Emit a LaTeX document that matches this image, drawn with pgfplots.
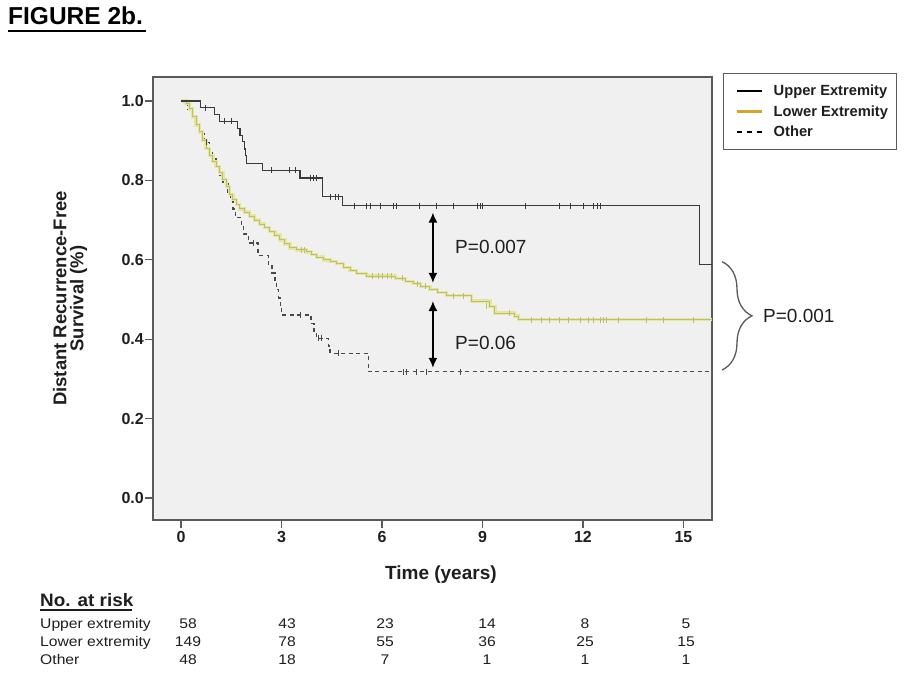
\documentclass[border=0pt]{standalone}
\usepackage{fontspec}
\setmainfont{Liberation Sans}
\usepackage{graphicx}
\usepackage{pgfplots}
\usepackage{pgfplotstable}
\pgfplotsset{compat=1.18}
\usetikzlibrary{arrows.meta,decorations.pathreplacing}

\definecolor{bgc}{HTML}{F0F0F0}
\definecolor{framec}{HTML}{5A5A5A}
\definecolor{upc}{HTML}{3A3A3A}
\definecolor{lowhalo}{HTML}{E6E69C}
\definecolor{lowc}{HTML}{BDBD78}
\definecolor{othc}{HTML}{4A4A4A}
\definecolor{legold}{HTML}{D4A52A}
\definecolor{txt}{HTML}{1E1E1E}

\pgfplotstableread{
x y
0 1.000
0.59 0.983
1.01 0.966
1.16 0.949
1.68 0.931
1.76 0.914
1.84 0.897
1.90 0.879
1.93 0.862
1.96 0.843
2.44 0.825
3.55 0.806
4.23 0.759
4.83 0.736
15.47 0.588
15.851 0.588
}\upperdata

\pgfplotstableread{
x y
0.72 0.983
1.31 0.949
1.51 0.949
2.71 0.825
3.25 0.825
3.40 0.825
3.85 0.806
3.95 0.806
4.05 0.806
4.45 0.759
4.60 0.759
4.70 0.759
5.19 0.736
5.54 0.736
5.64 0.736
5.94 0.736
6.34 0.736
6.44 0.736
7.13 0.736
7.63 0.736
8.12 0.736
8.84 0.736
8.93 0.736
9.01 0.736
10.27 0.736
11.31 0.736
11.61 0.736
12.00 0.736
12.30 0.736
12.42 0.736
12.51 0.736
}\uppercens

\pgfplotstableread{
x y
0 1.000
0.15 0.993
0.25 0.980
0.35 0.960
0.45 0.940
0.55 0.922
0.65 0.900
0.75 0.880
0.85 0.862
0.95 0.848
1.05 0.835
1.15 0.820
1.25 0.803
1.35 0.785
1.45 0.765
1.55 0.752
1.65 0.740
1.75 0.728
1.90 0.720
2.05 0.710
2.20 0.700
2.35 0.690
2.50 0.682
2.65 0.672
2.80 0.662
2.95 0.650
3.10 0.640
3.25 0.630
3.45 0.625
3.75 0.620
3.90 0.613
4.05 0.607
4.25 0.600
4.45 0.595
4.65 0.590
4.85 0.580
5.05 0.573
5.24 0.566
5.54 0.559
6.40 0.553
6.70 0.546
6.93 0.540
7.15 0.533
7.43 0.525
7.65 0.517
7.93 0.510
8.68 0.496
9.22 0.483
9.37 0.466
9.95 0.458
10.07 0.449
15.851 0.449
}\lowerdata

\pgfplotstableread{
x y
3.60 0.625
3.68 0.625
5.70 0.559
5.90 0.559
6.00 0.559
6.15 0.559
6.28 0.559
6.60 0.553
7.05 0.540
7.30 0.533
8.12 0.510
8.42 0.510
9.13 0.483
9.81 0.466
10.47 0.449
10.77 0.449
11.01 0.449
11.31 0.449
11.56 0.449
11.91 0.449
12.16 0.449
12.31 0.449
12.51 0.449
12.61 0.449
12.71 0.449
13.05 0.449
13.90 0.449
14.40 0.449
15.29 0.449
}\lowercens

\pgfplotstableread{
x y
0 1.000
0.20 0.979
0.33 0.958
0.45 0.938
0.55 0.917
0.70 0.896
0.85 0.875
0.95 0.854
1.05 0.833
1.13 0.812
1.25 0.791
1.40 0.770
1.48 0.749
1.55 0.728
1.62 0.707
1.80 0.686
1.86 0.665
2.02 0.642
2.30 0.611
2.61 0.588
2.72 0.567
2.81 0.546
2.86 0.525
2.92 0.504
2.96 0.483
3.01 0.461
3.88 0.440
3.97 0.421
4.05 0.402
4.40 0.383
4.45 0.364
5.59 0.318
15.851 0.318
}\otherdata

\pgfplotstableread{
x y
0.76 0.896
2.16 0.642
3.55 0.461
4.10 0.402
4.20 0.402
4.70 0.364
6.64 0.318
6.74 0.318
7.04 0.318
7.33 0.318
8.33 0.318
}\othercens

\begin{document}
\begin{tikzpicture}[x=1pt,y=1pt]
\useasboundingbox (0,0) rectangle (915,690);
\begin{axis}[
  at={(153pt,170pt)}, anchor=south west,
  width=559pt, height=443pt, scale only axis,
  xmin=-0.836, xmax=15.851, ymin=-0.0554, ymax=1.0605,
  axis background/.style={fill=bgc},
  axis line style={framec, line width=1.3pt},
  xtick={0,3,6,9,12,15}, ytick={0,0.2,0.4,0.6,0.8,1.0},
  tick pos=left, tick align=outside, major tick length=8pt,
  tick style={framec, line width=1.2pt},
  /pgf/number format/assume math mode=true,
  ticklabel style={font=\bfseries\fontsize{16}{19}\selectfont, text=txt},
  xticklabel style={inner sep=0pt, yshift=-3pt},
  yticklabel style={inner sep=0pt, xshift=-1pt, /pgf/number format/.cd, fixed, fixed zerofill, precision=1},
  xlabel={Time (years)},
  xlabel style={at={(axis description cs:0.515,-0.135)}, anchor=base, font=\bfseries\fontsize{19}{22}\selectfont, text=txt, inner sep=0pt},
  ylabel={Distant Recurrence-Free\\Survival (\%)},
  ylabel style={at={(axis description cs:-0.1485,0.5)}, anchor=center, align=center, font=\bfseries\fontsize{18.5}{17}\selectfont, text=txt},
  legend style={at={(rel axis cs:1,1)}, anchor=north west, xshift=11pt, yshift=3.7pt,
    draw=framec, line width=1pt, fill=white,
    font=\bfseries\fontsize{14.7}{17}\selectfont, text=txt,
    inner xsep=5pt, inner ysep=8.5pt, row sep=3.5pt,
    nodes={inner xsep=3pt, inner ysep=2.5pt}, cells={anchor=west}},
  legend image code/.code={\path (0pt,0pt) (40pt,0pt); \draw[#1] (7pt,0pt) -- (32pt,0pt);},
  clip=false,
]
\addlegendimage{black, line width=2.2pt}
\addlegendentry{Upper Extremity}
\addlegendimage{legold, line width=2.2pt}
\addlegendentry{Lower Extremity}
\addlegendimage{black, line width=2.2pt, dash pattern=on 5pt off 5pt}
\addlegendentry{Other}

% Other (dashed)
\addplot[const plot, othc, line width=1.3pt, dash pattern=on 4pt off 3.5pt, forget plot] table {\otherdata};
\addplot[only marks, mark=|, mark size=3pt, othc, line width=0.8pt, forget plot] table {\othercens};
% Lower extremity (yellow)
\addplot[const plot, lowhalo, line width=3.4pt, forget plot] table {\lowerdata};
\addplot[const plot, lowc, line width=1pt, forget plot] table {\lowerdata};
\addplot[only marks, mark=|, mark size=3pt, lowc, line width=0.8pt, forget plot] table {\lowercens};
% Upper extremity
\addplot[const plot, upc, line width=1.2pt, forget plot] table {\upperdata};
\addplot[only marks, mark=|, mark size=3pt, upc, line width=0.8pt, forget plot] table {\uppercens};

% annotations
\draw[line width=1.5pt, {Latex[length=10pt,width=9pt]}-{Latex[length=10pt,width=9pt]}] (axis cs:7.52,0.719) -- (axis cs:7.52,0.542);
\draw[line width=1.5pt, {Latex[length=10pt,width=9pt]}-{Latex[length=10pt,width=9pt]}] (axis cs:7.52,0.496) -- (axis cs:7.52,0.328);
\node[anchor=west, inner sep=0pt, font=\fontsize{19}{22}\selectfont, text=txt] at (axis cs:8.18,0.633) {P=0.007};
\node[anchor=west, inner sep=0pt, font=\fontsize{19}{22}\selectfont, text=txt] at (axis cs:8.18,0.390) {P=0.06};
\end{axis}

% brace and overall p-value
\draw[framec, line width=1.3pt, decorate, decoration={brace, amplitude=30pt}] (722,428.3) -- (722,320);
\node[anchor=west, inner sep=0pt, font=\fontsize{19}{22}\selectfont, text=txt] at (763,374) {P=0.001};

% title
\node[anchor=base west, inner sep=0pt, font=\bfseries\fontsize{24.5}{28}\selectfont] at (8,665) {FIGURE 2b.};
\draw[line width=2.3pt] (8,659.3) -- (146,659.3);

% number at risk table
\newcommand{\tf}{\fontsize{14}{16}\selectfont}
\newcommand{\sx}[1]{\scalebox{1.12}[1]{#1}}
\node[anchor=base west, inner sep=0pt, text=txt] at (40,83.3) {\bfseries\fontsize{18}{20}\selectfont\scalebox{1.05}[1]{No. at risk}};
\draw[txt, line width=1.4pt] (40,79.8) -- (132,79.8);
\node[anchor=base west, inner sep=0pt, text=txt] at (40,61.7) {\tf\sx{Upper extremity}};
\node[anchor=base west, inner sep=0pt, text=txt] at (40,43.3) {\tf\sx{Lower extremity}};
\node[anchor=base west, inner sep=0pt, text=txt] at (40,25) {\tf\sx{Other}};
\foreach \xx/\a/\b/\c in {188/58/149/48, 287/43/78/18, 385/23/55/7, 487/14/36/1, 585/8/25/1, 686/5/15/1}{
  \node[anchor=base, inner sep=0pt, text=txt] at (\xx,61.7) {\tf\sx{\a}};
  \node[anchor=base, inner sep=0pt, text=txt] at (\xx,43.3) {\tf\sx{\b}};
  \node[anchor=base, inner sep=0pt, text=txt] at (\xx,25) {\tf\sx{\c}};
}
\end{tikzpicture}
\end{document}
